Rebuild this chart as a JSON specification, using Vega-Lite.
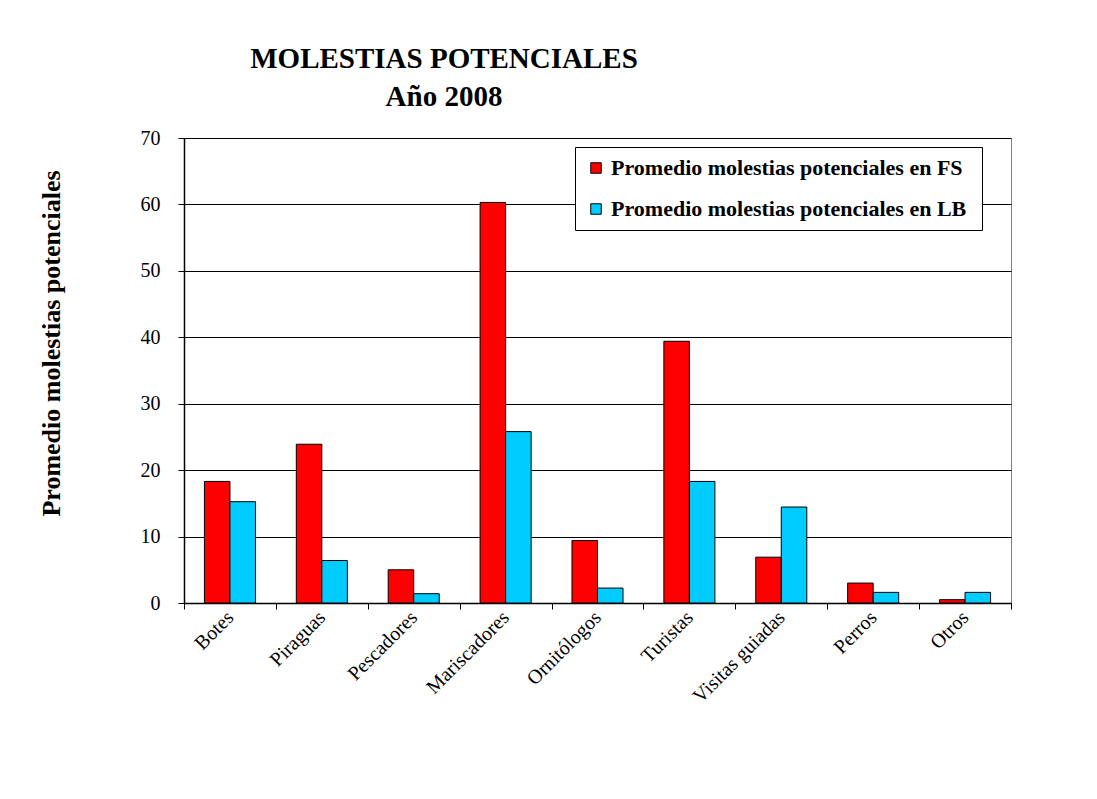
{
  "$schema": "https://vega.github.io/schema/vega-lite/v6.json",
  "autosize": {"type": "none"},
  "width": 827,
  "height": 465,
  "padding": {"left": 184, "top": 138, "right": 86, "bottom": 196},
  "background": "white",
  "title": {
    "text": ["MOLESTIAS POTENCIALES", "Año 2008"],
    "anchor": "start",
    "align": "center",
    "dx": 406,
    "offset": 16,
    "font": "Liberation Serif",
    "fontSize": 29,
    "fontWeight": "bold",
    "color": "black",
    "lineHeight": 38
  },
  "data": {
    "values": [
      {"categoria": "Botes", "serie": "Promedio molestias potenciales  en FS", "valor": 18.3},
      {"categoria": "Botes", "serie": "Promedio molestias potenciales  en LB", "valor": 15.25},
      {"categoria": "Piraguas", "serie": "Promedio molestias potenciales  en FS", "valor": 23.9},
      {"categoria": "Piraguas", "serie": "Promedio molestias potenciales  en LB", "valor": 6.4},
      {"categoria": "Pescadores", "serie": "Promedio molestias potenciales  en FS", "valor": 5.0},
      {"categoria": "Pescadores", "serie": "Promedio molestias potenciales  en LB", "valor": 1.4},
      {"categoria": "Mariscadores", "serie": "Promedio molestias potenciales  en FS", "valor": 60.3},
      {"categoria": "Mariscadores", "serie": "Promedio molestias potenciales  en LB", "valor": 25.8},
      {"categoria": "Ornitólogos", "serie": "Promedio molestias potenciales  en FS", "valor": 9.4},
      {"categoria": "Ornitólogos", "serie": "Promedio molestias potenciales  en LB", "valor": 2.25},
      {"categoria": "Turistas", "serie": "Promedio molestias potenciales  en FS", "valor": 39.4},
      {"categoria": "Turistas", "serie": "Promedio molestias potenciales  en LB", "valor": 18.3},
      {"categoria": "Visitas guiadas", "serie": "Promedio molestias potenciales  en FS", "valor": 6.9},
      {"categoria": "Visitas guiadas", "serie": "Promedio molestias potenciales  en LB", "valor": 14.45},
      {"categoria": "Perros", "serie": "Promedio molestias potenciales  en FS", "valor": 3.0},
      {"categoria": "Perros", "serie": "Promedio molestias potenciales  en LB", "valor": 1.6},
      {"categoria": "Otros", "serie": "Promedio molestias potenciales  en FS", "valor": 0.5},
      {"categoria": "Otros", "serie": "Promedio molestias potenciales  en LB", "valor": 1.6}
    ]
  },
  "mark": {"type": "bar", "stroke": "black", "strokeWidth": 1},
  "encoding": {
    "x": {
      "field": "categoria",
      "type": "nominal",
      "sort": null,
      "scale": {"paddingInner": 0, "paddingOuter": 0},
      "axis": {
        "title": null,
        "labelAngle": -45,
        "labelAlign": "right",
        "labelBaseline": "middle",
        "labelPadding": 5,
        "labelFont": "Liberation Serif",
        "labelFontSize": 20,
        "labelColor": "black",
        "tickBand": "extent",
        "tickColor": "black",
        "tickSize": 6,
        "domainColor": "black",
        "domainWidth": 1.5
      }
    },
    "xOffset": {
      "field": "serie",
      "type": "nominal",
      "scale": {"paddingInner": 0, "paddingOuter": 0.8}
    },
    "y": {
      "field": "valor",
      "type": "quantitative",
      "scale": {"domain": [0, 70], "nice": false},
      "axis": {
        "title": "Promedio molestias  potenciales",
        "titleFont": "Liberation Serif",
        "titleFontSize": 26,
        "titleFontWeight": "bold",
        "titleColor": "black",
        "titleX": -133,
        "titleY": 205,
        "titleAngle": -90,
        "titleAlign": "center",
        "titleBaseline": "middle",
        "values": [0, 10, 20, 30, 40, 50, 60, 70],
        "labelFont": "Liberation Serif",
        "labelFontSize": 20,
        "labelColor": "black",
        "labelPadding": 18,
        "tickColor": "black",
        "tickSize": 6,
        "domainColor": "black",
        "domainWidth": 1.5,
        "grid": true,
        "gridColor": "black",
        "gridWidth": 1
      }
    },
    "color": {
      "field": "serie",
      "type": "nominal",
      "scale": {"range": ["#FF0000", "#00CCFF"]},
      "legend": {
        "title": null,
        "orient": "none",
        "legendX": 391,
        "legendY": 9,
        "symbolType": "square",
        "symbolSize": 110,
        "symbolStrokeColor": "black",
        "symbolStrokeWidth": 1,
        "labelFont": "Liberation Serif",
        "labelFontSize": 22,
        "labelFontWeight": "bold",
        "labelColor": "black",
        "labelLimit": 500,
        "rowPadding": 19,
        "padding": 10,
        "fillColor": "white",
        "strokeColor": "black"
      }
    }
  },
  "config": {
    "view": {"stroke": "#808080"}
  }
}
